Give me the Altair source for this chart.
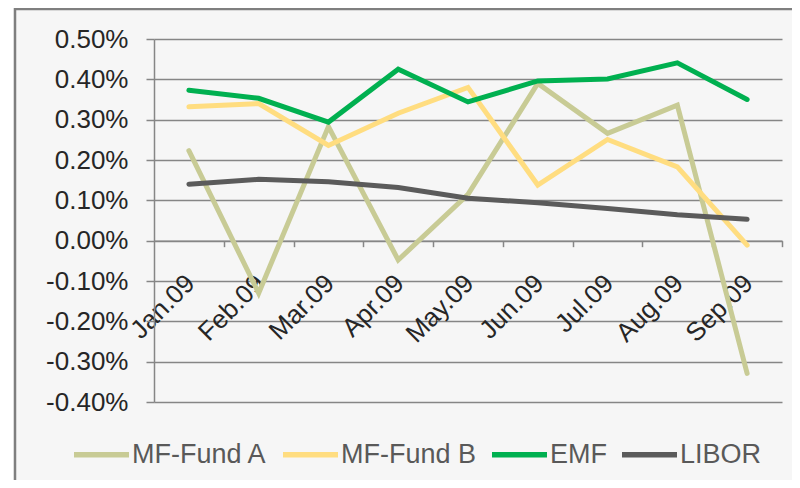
import altair as alt
import pandas as pd

months = ["Jan.09", "Feb.09", "Mar.09", "Apr.09", "May.09", "Jun.09", "Jul.09", "Aug.09", "Sep.09"]
series_names = ["MF-Fund A", "MF-Fund B", "EMF", "LIBOR"]
fund_a = [0.223, -0.130, 0.283, -0.048, 0.115, 0.390, 0.266, 0.336, -0.329]
fund_b = [0.332, 0.340, 0.236, 0.316, 0.380, 0.138, 0.251, 0.183, -0.011]
emf = [0.373, 0.353, 0.294, 0.425, 0.344, 0.396, 0.401, 0.441, 0.350]
libor = [0.140, 0.152, 0.146, 0.132, 0.105, 0.094, 0.080, 0.064, 0.053]
colors = ["#c8cb95", "#ffdd80", "#00b050", "#5b5b5b"]
y_ticks = [-0.40, -0.30, -0.20, -0.10, 0.00, 0.10, 0.20, 0.30, 0.40, 0.50]

rows = []
for name, vals in zip(series_names, [fund_a, fund_b, emf, libor]):
    for i, (m, v) in enumerate(zip(months, vals)):
        rows.append({"idx": i, "month": m, "series": name, "value": v / 100.0})
df = pd.DataFrame(rows)

W, H = 628, 363
FONT = "Liberation Sans"
GRID = "#868686"
FS = 26
ymin, ymax = y_ticks[0] / 100.0, y_ticks[-1] / 100.0
zero_offset = -(H * (0 - ymin) / (ymax - ymin))

xscale = alt.Scale(domain=[-0.5, len(months) - 0.5], nice=False, zero=False)
yscale = alt.Scale(domain=[ymin, ymax], nice=False, zero=False)

month_arr = "[" + ",".join("'" + m + "'" for m in months) + "]"

yenc = alt.Y(
    "value:Q",
    scale=yscale,
    axis=alt.Axis(
        values=[round(v / 100.0, 4) for v in y_ticks],
        labelExpr="replace(format(datum.value, '.2%'), '\u2212', '-')",
        title=None,
        grid=True,
        gridColor=GRID,
        gridWidth=1.5,
        domain=True,
        domainColor=GRID,
        domainWidth=1.5,
        ticks=True,
        tickSize=8,
        tickColor=GRID,
        tickWidth=1.5,
        labelPadding=18,
        labelFont=FONT,
        labelFontSize=FS,
        labelColor="#262626",
        labelOverlap=False,
    ),
)

lines = alt.Chart(df).mark_line(strokeWidth=5, strokeCap="round").encode(
    x=alt.X(
        "idx:Q",
        scale=xscale,
        axis=alt.Axis(
            orient="bottom",
            values=list(range(len(months))),
            labelExpr=month_arr + "[round(datum.value)]",
            labelAngle=-45,
            labelFont=FONT,
            labelFontSize=FS,
            labelColor="#262626",
            labelPadding=29,
            labelOffset=-8,
            labelOverlap=False,
            ticks=False,
            tickSize=0,
            domain=False,
            grid=False,
            offset=zero_offset,
            title=None,
        ),
    ),
    y=yenc,
    color=alt.Color(
        "series:N",
        scale=alt.Scale(domain=series_names, range=colors),
        legend=alt.Legend(
            title=None,
            orient="none",
            legendX=-83,
            legendY=385,
            direction="horizontal",
            symbolType="stroke",
            symbolSize=3025,
            symbolStrokeWidth=5.5,
            labelFont=FONT,
            labelFontSize=27,
            labelColor="#595959",
            labelOffset=0,
            columnPadding=4,
            padding=0,
        ),
    ),
    detail="series:N",
)

tick_layer = alt.Chart(df).mark_line(opacity=0).encode(
    x=alt.X(
        "idx:Q",
        scale=xscale,
        axis=alt.Axis(
            orient="bottom",
            values=[i + 0.5 for i in range(len(months))],
            labels=False,
            ticks=True,
            tickSize=6,
            tickColor=GRID,
            tickWidth=1.5,
            domain=True,
            domainColor=GRID,
            domainWidth=1.5,
            grid=False,
            offset=zero_offset,
            title=None,
        ),
    ),
    y=yenc,
    detail="series:N",
)

one = pd.DataFrame({"a": [0]})
white_strip = alt.Chart(one).mark_rect(fill="white", stroke=None).encode(
    x=alt.value(-150), x2=alt.value(-140.5), y=alt.value(-40), y2=alt.value(H + 200)
)
frame = alt.Chart(one).mark_rect(fillOpacity=0, stroke="#7f7f7f", strokeWidth=2.5).encode(
    x=alt.value(-139), x2=alt.value(W + 200), y=alt.value(-30), y2=alt.value(H + 200)
)

chart = (
    alt.layer(white_strip, frame, tick_layer, lines)
    .resolve_axis(x="independent")
    .properties(
        width=W,
        height=H,
        autosize=alt.AutoSizeParams(type="none"),
        padding={"left": 146, "top": 31, "right": 10, "bottom": 78},
        background="#f6f6f6",
    )
    .configure_view(stroke=None)
)

chart.save("out.html", embed_options={"renderer": "svg", "actions": False})
